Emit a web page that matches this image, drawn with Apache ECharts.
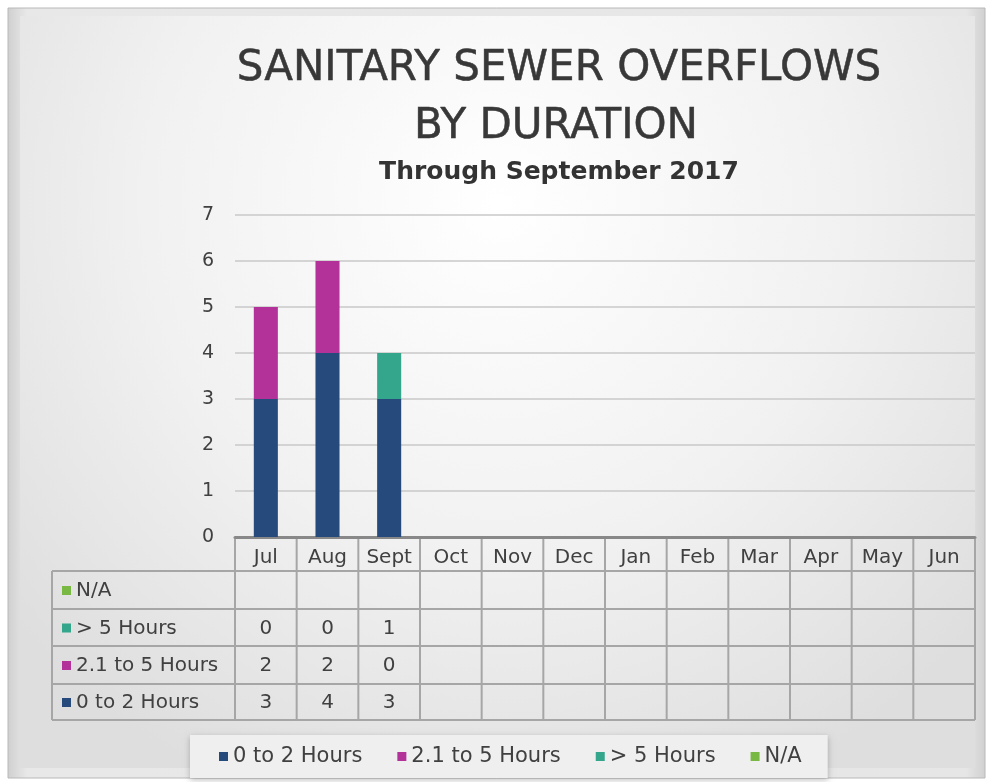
<!DOCTYPE html>
<html><head><meta charset="utf-8">
<script src="https://cdn.jsdelivr.net/npm/echarts@6/dist/echarts.min.js"></script>
<style>html,body{margin:0;padding:0;background:#fff}#c{width:992px;height:782px}</style>
</head><body><div id="c"></div>
<script>
// ---- data ----
const months = ['Jul','Aug','Sept','Oct','Nov','Dec','Jan','Feb','Mar','Apr','May','Jun'];
const seriesNames = ['0 to 2 Hours','2.1 to 5 Hours','> 5 Hours','N/A'];
const hours0to2 = [3,4,3,null,null,null,null,null,null,null,null,null];
const hours2to5 = [2,2,0,null,null,null,null,null,null,null,null,null];
const hoursOver5 = [0,0,1,null,null,null,null,null,null,null,null,null];
const hoursNA = [null,null,null,null,null,null,null,null,null,null,null,null];
const yMin = 0, yMax = 7, yStep = 1;
const titleLines = ['SANITARY SEWER OVERFLOWS','BY DURATION'];
const subTitle = 'Through September 2017';

// ---- style ----
const colors = ['#254a7b','#b3329a','#33a68b','#79b843'];
const FONT = "'DejaVu Sans', sans-serif";
const TXT = '#404040';
const seriesData = [hours0to2, hours2to5, hoursOver5, hoursNA];

const chart = echarts.init(document.getElementById('c'), null, {renderer:'canvas'});
const G = {left:235, right:17, top:215, bottom:245};

chart.setOption({
  animation:false,
  color: colors,
  grid: {left:G.left, right:G.right, top:G.top, bottom:G.bottom, containLabel:false},
  legend: {
    data: seriesNames, left:190, top:735, itemWidth:9, itemHeight:9, itemGap:35,
    icon:'rect', padding:[11,26,11,29], backgroundColor:'#efefef',
    shadowColor:'rgba(0,0,0,0.25)', shadowBlur:6, shadowOffsetY:2,
    textStyle:{fontFamily:FONT, fontSize:21, color:TXT}
  },
  xAxis: {type:'category', data:months,
    axisLine:{show:true, lineStyle:{color:'#888', width:3}},
    axisTick:{show:false}, axisLabel:{show:false}, splitLine:{show:false}},
  yAxis: {type:'value', min:yMin, max:yMax, interval:yStep,
    axisLine:{show:false}, axisTick:{show:false},
    axisLabel:{fontFamily:FONT, fontSize:19, color:TXT, margin:21},
    splitLine:{lineStyle:{color:'#c9c9c9', width:1.5}}},
  series: seriesNames.map((n,i)=>({
    name:n, type:'bar', stack:'total', barWidth:'39%', data:seriesData[i],
    itemStyle:{color:colors[i]}
  }))
});

// ---- background, titles, data table (positions from the axis scale) ----
const g = [];
g.push({type:'rect', z:-10, shape:{x:0,y:0,width:992,height:782}, style:{fill:'#ffffff'}});
g.push({type:'rect', z:-9, shape:{x:8,y:8,width:977,height:770},
  style:{fill:new echarts.graphic.LinearGradient(0,0,1,0,[{offset:0,color:'#cfcfcf'},{offset:0.02,color:'#e8e8e8'},{offset:0.98,color:'#e6e6e6'},{offset:1,color:'#d0d0d0'}]), stroke:'#b8b8b8', lineWidth:1}});
g.push({type:'rect', z:-8, shape:{x:20,y:16,width:955,height:752},
  style:{fill:new echarts.graphic.RadialGradient(0.5,0.25,0.85,[{offset:0,color:'#ffffff'},{offset:0.55,color:'#f1f1f1'},{offset:1,color:'#dedede'}])}});

const TF = "normal 42px 'DejaVu Sans', sans-serif";
g.push({type:'text', z:5, style:{text:titleLines[0], x:559, y:69, align:'center', verticalAlign:'middle', font:TF, fill:'#383838', stroke:'#383838', lineWidth:0.5}});
g.push({type:'text', z:5, style:{text:titleLines[1], x:556, y:127, align:'center', verticalAlign:'middle', font:TF, fill:'#383838', stroke:'#383838', lineWidth:0.5}});
g.push({type:'text', z:5, style:{text:subTitle, x:559, y:172, align:'center', verticalAlign:'middle', font:"bold 25px 'DejaVu Sans', sans-serif", fill:'#333'}});

const c0 = chart.convertToPixel({xAxisIndex:0}, months[0]);
const c1 = chart.convertToPixel({xAxisIndex:0}, months[1]);
const cw = c1 - c0;
const xL = c0 - cw/2;
const xR = chart.convertToPixel({xAxisIndex:0}, months[months.length-1]) + cw/2;
const yBase = chart.convertToPixel({yAxisIndex:0}, 0);
const tableLeft = 52;
const rowsY = [yBase+4, yBase+34, yBase+72, yBase+109, yBase+147, yBase+183];
const LC = '#a6a6a6', LW = 2;
const CF = "20px 'DejaVu Sans', sans-serif";
// horizontal lines
g.push({type:'line', z:3, shape:{x1:xL,y1:rowsY[1],x2:xR,y2:rowsY[1]}, style:{stroke:LC,lineWidth:LW}});
for (let r=1;r<rowsY.length;r++) {
  g.push({type:'line', z:3, shape:{x1:tableLeft,y1:rowsY[r],x2:xR,y2:rowsY[r]}, style:{stroke:LC,lineWidth:LW}});
}
// vertical lines
for (let i=0;i<=months.length;i++) {
  const x = xL + i*cw;
  g.push({type:'line', z:3, shape:{x1:x,y1:yBase+2,x2:x,y2:rowsY[5]}, style:{stroke:LC,lineWidth:LW}});
}
g.push({type:'line', z:3, shape:{x1:tableLeft,y1:rowsY[1],x2:tableLeft,y2:rowsY[5]}, style:{stroke:LC,lineWidth:LW}});
// header labels
months.forEach((m,i)=>{
  const x = chart.convertToPixel({xAxisIndex:0}, m);
  g.push({type:'text', z:5, style:{text:m, x:x, y:(rowsY[0]+rowsY[1])/2+2, align:'center', verticalAlign:'middle', font:CF, fill:TXT}});
});
// rows: top-to-bottom N/A, >5, 2.1-5, 0-2
const order = [3,2,1,0];
order.forEach((si,r)=>{
  const yc = (rowsY[r+1]+rowsY[r+2])/2;
  g.push({type:'rect', z:5, shape:{x:62,y:yc-4,width:9,height:9}, style:{fill:colors[si]}});
  g.push({type:'text', z:5, style:{text:seriesNames[si], x:76, y:yc+1, align:'left', verticalAlign:'middle', font:CF, fill:TXT}});
  seriesData[si].forEach((v,i)=>{
    if (v===null || v===undefined) return;
    const x = chart.convertToPixel({xAxisIndex:0}, months[i]);
    g.push({type:'text', z:5, style:{text:String(v), x:x, y:yc+1, align:'center', verticalAlign:'middle', font:CF, fill:TXT}});
  });
});
chart.setOption({graphic: g});
</script></body></html>
